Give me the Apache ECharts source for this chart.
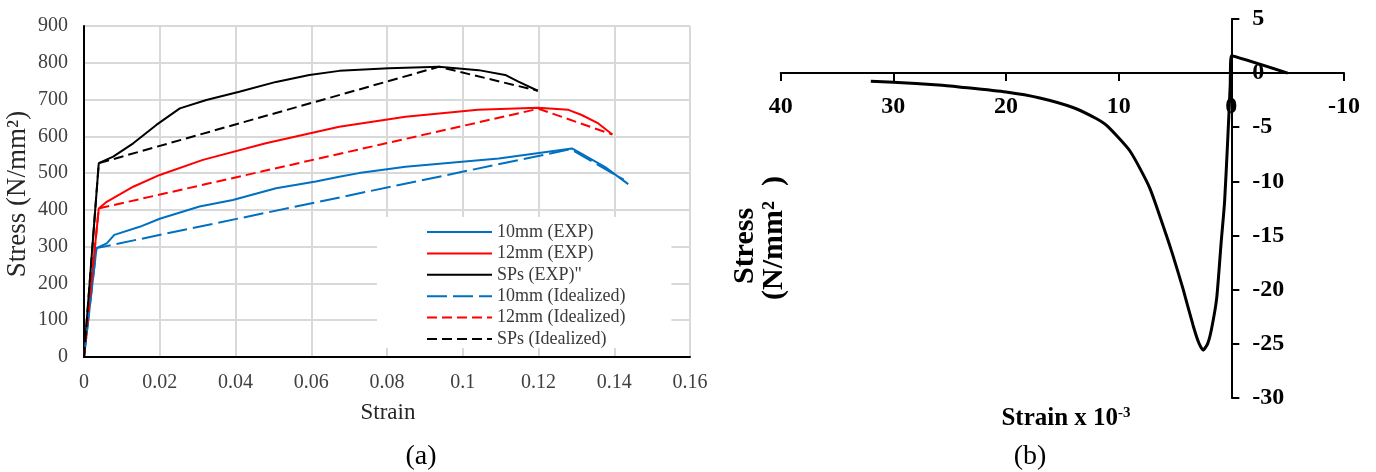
<!DOCTYPE html>
<html>
<head>
<meta charset="utf-8">
<script src="https://cdn.jsdelivr.net/npm/echarts@6/dist/echarts.min.js"></script>
<style>
  html, body { margin: 0; padding: 0; background: #fff; }
  #chart { width: 1376px; height: 472px; }
</style>
</head>
<body>
<div id="chart"></div>
<script>
// (a) stress-strain, [strain, stress N/mm2]
const blueExp = [[0, 0], [0.0033, 296], [0.006, 309], [0.008, 332], [0.0147, 354], [0.02, 376],
  [0.0305, 409], [0.0393, 427], [0.0507, 459], [0.0612, 477], [0.0674, 490], [0.0726, 500],
  [0.0849, 517], [0.1095, 540], [0.1288, 567], [0.1305, 558], [0.1375, 517], [0.1437, 470]]
const redExp = [[0, 0], [0.0039, 404], [0.006, 422], [0.013, 463], [0.02, 495], [0.0314, 536],
  [0.048, 581], [0.0674, 626], [0.0849, 653], [0.104, 672], [0.1198, 678], [0.1279, 672],
  [0.1314, 658], [0.1358, 635], [0.1395, 605]]
const blackExp = [[0, 0], [0.0039, 527], [0.0077, 545], [0.013, 581], [0.0191, 631], [0.0253, 676],
  [0.0323, 699], [0.041, 721], [0.0507, 748], [0.0595, 767], [0.0674, 778], [0.0805, 785],
  [0.0937, 789], [0.1042, 780], [0.1112, 767], [0.1147, 749], [0.1198, 724]]
const blueIdeal = [[0, 0], [0.0033, 296], [0.1285, 565], [0.1425, 482]]
const redIdeal = [[0, 0], [0.0039, 404], [0.12, 675], [0.1395, 605]]
const blackIdeal = [[0, 0], [0.0039, 527], [0.0937, 789], [0.1198, 724]]
const legendNames = ['10mm (EXP)', '12mm (EXP)', 'SPs (EXP)"', '10mm (Idealized)', '12mm (Idealized)', 'SPs (Idealized)']

// (b) [strain x 10^-3, stress]
const curveB = [[32, -0.75], [30, -0.85], [26, -1.1], [24, -1.3], [20, -1.75], [17, -2.3], [14, -3.2],
  [12, -4.2], [11, -4.9], [9, -7.2], [7.25, -10.6], [5.8, -14.9], [5.2, -16.8], [4.3, -19.9],
  [3.4, -23.3], [2.9, -24.9], [2.5, -25.6], [2.1, -25.0], [1.75, -23.6], [1.3, -20.8], [0.9, -15.6],
  [0.6, -11.9], [0.3, -5.7], [0.1, -1.1], [0, 1.6], [-5, 0]]

const serif = 'Liberation Serif'
const chart = echarts.init(document.getElementById('chart'))

// grid (b) placement, axes cross at strain 0 / stress 0
const gb = { left: 780.7, top: 19, width: 563.3, height: 378.7 }

function lineSeries(name, data, color, dash) {
  return {
    name: name,
    type: 'line',
    data: data,
    xAxisIndex: 0,
    yAxisIndex: 0,
    symbol: 'none',
    lineStyle: { color: color, width: 2, type: dash || 'solid' },
    itemStyle: { color: color },
  }
}

chart.setOption({
  animation: false,
  backgroundColor: '#fff',
  grid: [
    { left: 84, top: 26, width: 606, height: 331 },
    gb,
  ],
  legend: {
    data: legendNames,
    orient: 'vertical',
    left: 377,
    top: 217,
    padding: [6, 46, 0, 49],
    backgroundColor: '#fff',
    itemWidth: 65,
    itemHeight: 14,
    itemGap: 3.4,
    itemStyle: { opacity: 0 },
    textStyle: { fontFamily: serif, fontSize: 18, color: '#3a3a3a' },
  },
  xAxis: [
    {
      type: 'value', gridIndex: 0, min: 0, max: 0.16, interval: 0.02,
      axisLine: { lineStyle: { color: '#000', width: 2 } },
      axisTick: { show: false },
      axisLabel: { fontFamily: serif, fontSize: 20, color: '#404040', margin: 16,
        formatter: (v) => String(+v.toFixed(2)) },
      splitLine: { show: true, lineStyle: { color: '#d9d9d9', width: 2 } },
    },
    {
      type: 'value', gridIndex: 1, min: -10, max: 40, interval: 10, inverse: true,
      position: 'bottom',
      offset: -(gb.height * 30 / 35),
      axisLine: { onZero: false, lineStyle: { color: '#000', width: 2 } },
      axisTick: { show: true, length: 8, lineStyle: { color: '#000', width: 2 } },
      axisLabel: { fontFamily: serif, fontSize: 24, fontWeight: 'bold', color: '#000', margin: 22 },
      splitLine: { show: false },
    },
  ],
  yAxis: [
    {
      type: 'value', gridIndex: 0, min: 0, max: 900, interval: 100,
      axisLine: { show: true, lineStyle: { color: '#000', width: 2 } },
      axisTick: { show: false },
      axisLabel: { fontFamily: serif, fontSize: 20, color: '#404040', margin: 16 },
      splitLine: { show: true, lineStyle: { color: '#d9d9d9', width: 2 } },
    },
    {
      type: 'value', gridIndex: 1, min: -30, max: 5, interval: 5,
      position: 'left',
      offset: -(gb.width * 40 / 50),
      axisLine: { show: true, onZero: false, lineStyle: { color: '#000', width: 2 } },
      axisTick: { show: true, inside: true, length: 8, lineStyle: { color: '#000', width: 2 } },
      axisLabel: { inside: true, fontFamily: serif, fontSize: 24, fontWeight: 'bold', color: '#000', margin: 21 },
      splitLine: { show: false },
    },
  ],
  series: [
    lineSeries(legendNames[0], blueExp, '#0070c0'),
    lineSeries(legendNames[1], redExp, '#ff0000'),
    lineSeries(legendNames[2], blackExp, '#000000'),
    lineSeries(legendNames[3], blueIdeal, '#0070c0', [20, 6]),
    lineSeries(legendNames[4], redIdeal, '#ff0000', [10, 5]),
    lineSeries(legendNames[5], blackIdeal, '#000000', [10, 5]),
    {
      name: 'b',
      type: 'line',
      data: curveB,
      xAxisIndex: 1,
      yAxisIndex: 1,
      symbol: 'none',
      smooth: 0.2,
      lineStyle: { color: '#000', width: 3 },
    },
  ],
  graphic: [
    { type: 'text', x: 18, y: 194, rotation: Math.PI / 2,
      style: { text: 'Stress (N/mm²)', fontFamily: serif, fontSize: 27, fill: '#262626', align: 'center', verticalAlign: 'middle' } },
    { type: 'text', x: 388, y: 413,
      style: { text: 'Strain', fontFamily: serif, fontSize: 23, fill: '#262626', align: 'center', verticalAlign: 'middle' } },
    { type: 'text', x: 421, y: 457,
      style: { text: '(a)', fontFamily: serif, fontSize: 28, fill: '#000', align: 'center', verticalAlign: 'middle' } },
    { type: 'text', x: 745, y: 246, rotation: Math.PI / 2,
      style: { text: 'Stress', fontFamily: serif, fontSize: 30, fontWeight: 'bold', fill: '#000', align: 'center', verticalAlign: 'middle' } },
    { type: 'text', x: 774, y: 238, rotation: Math.PI / 2,
      style: { text: '(N/mm²  )', fontFamily: serif, fontSize: 30, fontWeight: 'bold', fill: '#000', align: 'center', verticalAlign: 'middle' } },
    { type: 'text', x: 1066, y: 419,
      style: { text: '{a|Strain x 10}{b|-3}', align: 'center', verticalAlign: 'middle',
        rich: {
          a: { fontFamily: serif, fontSize: 25, fontWeight: 'bold', fill: '#000', color: '#000' },
          b: { fontFamily: serif, fontSize: 15, fontWeight: 'bold', fill: '#000', color: '#000', padding: [0, 0, 12, 0] },
        } } },
    { type: 'text', x: 1030, y: 457,
      style: { text: '(b)', fontFamily: serif, fontSize: 28, fill: '#000', align: 'center', verticalAlign: 'middle' } },
  ],
})
</script>
</body>
</html>
